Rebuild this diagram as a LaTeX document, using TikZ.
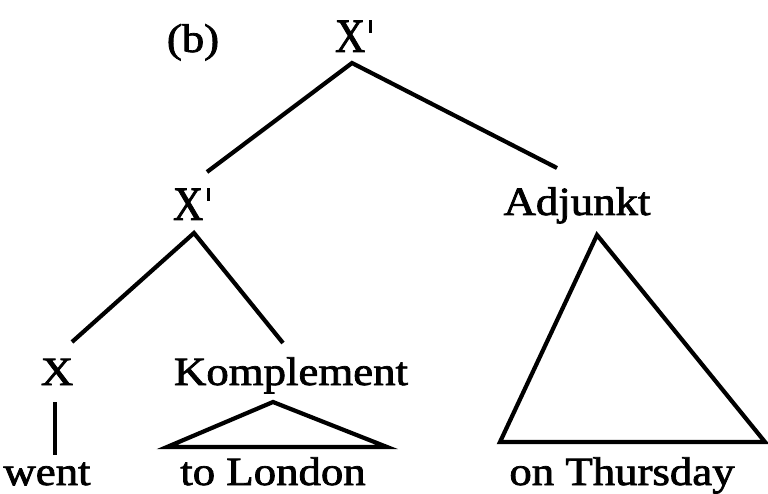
\documentclass[tikz,border=0pt]{standalone}
\usepackage{fontspec}
\usepackage{graphicx}
\setmainfont{Liberation Serif}[FakeBold=1.8]
\newcommand{\wtxt}[1]{\scalebox{1.12}[1]{#1}}
\newcommand{\bigX}{\scalebox{0.87}[1]{X}}
\newcommand{\primebar}{\hspace{4pt}\raisebox{19pt}{\rule{2.8pt}{13pt}}}
\tikzset{
  lbl/.style={inner sep=0pt, outer sep=0pt, font=\fontsize{40}{48}\selectfont},
  xlbl/.style={inner sep=0pt, outer sep=0pt, font=\fontsize{48}{56}\selectfont},
  branch/.style={line width=4.2pt, line join=miter},
}
\begin{document}
\begin{tikzpicture}[x=1pt,y=-1pt]
\useasboundingbox (0,0) rectangle (768,494);
% labels
\node[lbl, anchor=base] (b) at (193,52) {\wtxt{(b)}};
\node[xlbl, anchor=base west] (top) at (335,52) {\bigX\primebar};
\node[xlbl, anchor=base west] (mid) at (173,220) {\bigX\primebar};
\node[lbl, anchor=base] (adj) at (577,215) {\wtxt{Adjunkt}};
\node[lbl, anchor=base] (x) at (57,385) {\wtxt{X}};
\node[lbl, anchor=base] (komp) at (291,385) {\wtxt{Komplement}};
\node[lbl, anchor=base] (went) at (47,485) {\wtxt{went}};
\node[lbl, anchor=base] (lon) at (273,485) {\wtxt{to London}};
\node[lbl, anchor=base] (thu) at (622,485) {\wtxt{on Thursday}};
% branch points
\coordinate (topA) at (352,63);
\coordinate (midTop) at (207,172);
\coordinate (adjTop) at (557,168);
\coordinate (midA) at (194,233);
\coordinate (xTop) at (72,342);
\coordinate (kompTop) at (283,343);
\coordinate (xBot) at (55,402);
\coordinate (wentTop) at (55,455);
\coordinate (kA) at (273,402);
\coordinate (kL) at (167,447);
\coordinate (kR) at (387,447);
\coordinate (aA) at (597,235);
\coordinate (aL) at (500,442);
\coordinate (aR) at (765,442);
% connectors
\draw[branch] (midTop) -- (topA) -- (adjTop);
\draw[branch] (xTop) -- (midA) -- (kompTop);
\draw[branch] (xBot) -- (wentTop);
\draw[branch] (kA) -- (kL) -- (kR) -- cycle;
\draw[branch] (aA) -- (aL) -- (aR) -- cycle;
\end{tikzpicture}
\end{document}
